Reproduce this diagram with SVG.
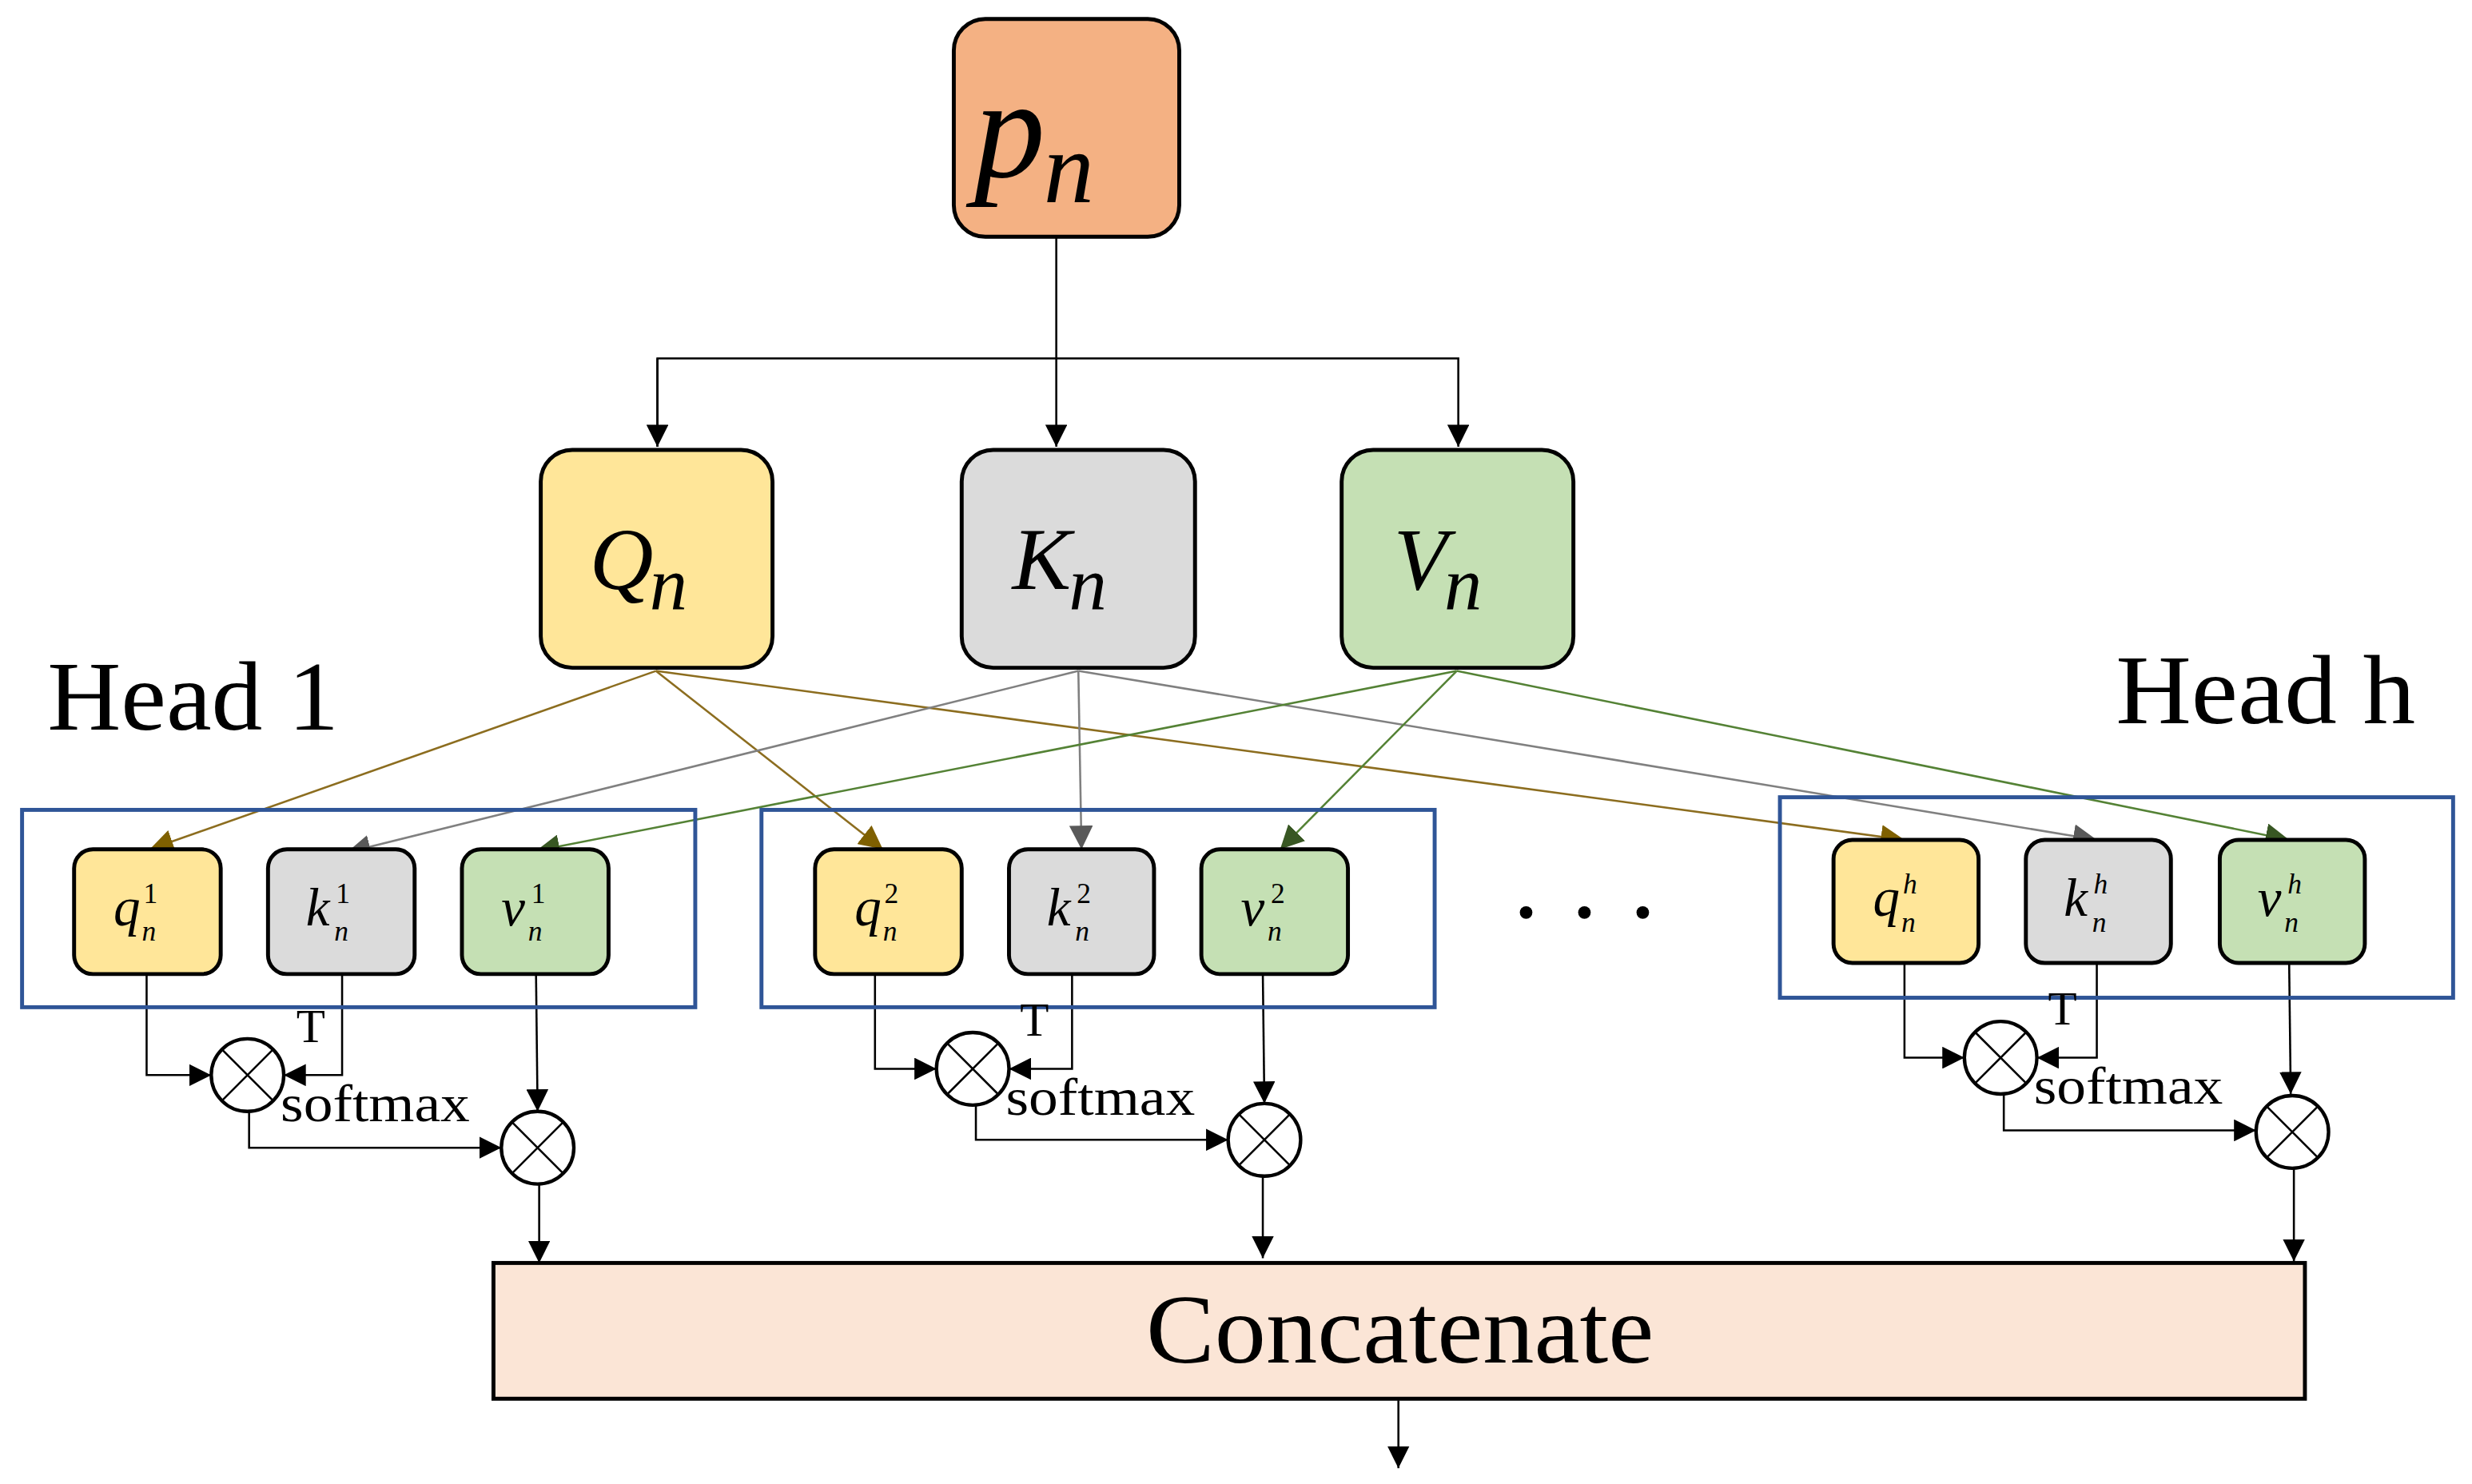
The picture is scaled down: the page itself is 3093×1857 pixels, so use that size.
<svg xmlns="http://www.w3.org/2000/svg" width="3093" height="1857" viewBox="0 0 3093 1857">
<style>
.node{stroke:#000;stroke-width:2.5}
.hb{fill:none;stroke:#2F5597;stroke-width:2.5}
.m{font-family:"Liberation Serif","DejaVu Serif",serif;font-style:italic;fill:#000}
.t{font-family:"Liberation Serif","DejaVu Serif",serif;fill:#000}
.b{font-size:34px}
.s{font-size:18px}
.c{fill:none;stroke:#000;stroke-width:1.3}
.cq{fill:none;stroke:#8C6D1F;stroke-width:1.3}
.ck{fill:none;stroke:#808080;stroke-width:1.3}
.cv{fill:none;stroke:#548235;stroke-width:1.3}
.op{fill:#fff;stroke:#000;stroke-width:2.2}
</style>
<defs>
<marker id="a" viewBox="0 0 10 10" refX="10" refY="5" markerWidth="14" markerHeight="14" markerUnits="userSpaceOnUse" orient="auto"><path d="M0,0L10,5L0,10z" fill="#000"/></marker>
<marker id="aq" viewBox="0 0 10 10" refX="10" refY="5" markerWidth="15" markerHeight="15" markerUnits="userSpaceOnUse" orient="auto"><path d="M0,0L10,5L0,10z" fill="#7F6000"/></marker>
<marker id="ak" viewBox="0 0 10 10" refX="10" refY="5" markerWidth="15" markerHeight="15" markerUnits="userSpaceOnUse" orient="auto"><path d="M0,0L10,5L0,10z" fill="#595959"/></marker>
<marker id="av" viewBox="0 0 10 10" refX="10" refY="5" markerWidth="15" markerHeight="15" markerUnits="userSpaceOnUse" orient="auto"><path d="M0,0L10,5L0,10z" fill="#385723"/></marker>
</defs>
<rect width="3093" height="1857" fill="#fff"/>
<g transform="scale(1.9726 1.9755)">
<g id="connectors">
<path class="c" d="M670,150V283" marker-end="url(#a)"/>
<path class="c" d="M417,283V227H925V283" marker-end="url(#a)"/>
<path class="c" d="M417,227V283" marker-end="url(#a)"/>
<path class="cq" d="M416,425L95,538" marker-end="url(#aq)"/>
<path class="cq" d="M416,425L560,538" marker-end="url(#aq)"/>
<path class="cq" d="M416,425L1208,532" marker-end="url(#aq)"/>
<path class="ck" d="M684,425L220,540" marker-end="url(#ak)"/>
<path class="ck" d="M684,425L686,538" marker-end="url(#ak)"/>
<path class="ck" d="M684,425L1330,532" marker-end="url(#ak)"/>
<path class="cv" d="M924,425L340,539" marker-end="url(#av)"/>
<path class="cv" d="M924,425L812,538" marker-end="url(#av)"/>
<path class="cv" d="M924,425L1452,532" marker-end="url(#av)"/>
<path class="c" d="M93,617V681H134" marker-end="url(#a)"/>
<path class="c" d="M217,617V681H180" marker-end="url(#a)"/>
<path class="c" d="M158,704V727H318" marker-end="url(#a)"/>
<path class="c" d="M340,617L341,704" marker-end="url(#a)"/>
<path class="c" d="M342,750V800" marker-end="url(#a)"/>
<path class="c" d="M555,617V677H594" marker-end="url(#a)"/>
<path class="c" d="M680,617V677H640" marker-end="url(#a)"/>
<path class="c" d="M619,700V722H779" marker-end="url(#a)"/>
<path class="c" d="M801,617L802,699" marker-end="url(#a)"/>
<path class="c" d="M801,745V797" marker-end="url(#a)"/>
<path class="c" d="M1208,610V670H1246" marker-end="url(#a)"/>
<path class="c" d="M1330,610V670H1292" marker-end="url(#a)"/>
<path class="c" d="M1271,693V716H1431" marker-end="url(#a)"/>
<path class="c" d="M1452,610L1453,693" marker-end="url(#a)"/>
<path class="c" d="M1455,740V799" marker-end="url(#a)"/>
<path class="c" d="M887,887V930" marker-end="url(#a)"/>
</g>
<g id="pn"><rect class="node" x="605" y="12" width="143" height="138" rx="20" fill="#F4B183"/><text class="m" x="618" y="112" font-size="90">p</text><text class="m" x="662" y="128" font-size="64">n</text></g>
<g id="Q"><rect class="node" x="343" y="285" width="147" height="138" rx="20" fill="#FFE699"/><text class="m" x="374" y="373" font-size="56">Q</text><text class="m" x="412" y="386" font-size="48">n</text></g>
<g id="K"><rect class="node" x="610" y="285" width="148" height="138" rx="20" fill="#DBDBDB"/><text class="m" x="642" y="373" font-size="56">K</text><text class="m" x="678" y="386" font-size="48">n</text></g>
<g id="V"><rect class="node" x="851" y="285" width="147" height="138" rx="20" fill="#C5E0B4"/><text class="m" x="884" y="373" font-size="56">V</text><text class="m" x="916" y="386" font-size="48">n</text></g>
<text class="t" x="30" y="462" font-size="62" textLength="185" lengthAdjust="spacingAndGlyphs">Head 1</text>
<text class="t" x="1342" y="458" font-size="62" textLength="190" lengthAdjust="spacingAndGlyphs">Head h</text>
<g id="head1">
<rect class="hb" x="14" y="513" width="427" height="125"/>
<g id="q1"><rect class="node" x="47" y="538" width="93" height="79" rx="12" fill="#FFE699"/><text class="m b" x="72" y="586">q</text><text class="t s" x="91" y="572">1</text><text class="m s" x="90" y="596">n</text></g>
<g id="k1"><rect class="node" x="170" y="538" width="93" height="79" rx="12" fill="#DBDBDB"/><text class="m b" x="194" y="586">k</text><text class="t s" x="213" y="572">1</text><text class="m s" x="212" y="596">n</text></g>
<g id="v1"><rect class="node" x="293" y="538" width="93" height="79" rx="12" fill="#C5E0B4"/><text class="m b" x="318" y="586">v</text><text class="t s" x="337" y="572">1</text><text class="m s" x="335" y="596">n</text></g>
</g>
<g id="head2">
<rect class="hb" x="483" y="513" width="427" height="125"/>
<g id="q2"><rect class="node" x="517" y="538" width="93" height="79" rx="12" fill="#FFE699"/><text class="m b" x="542" y="586">q</text><text class="t s" x="561" y="572">2</text><text class="m s" x="560" y="596">n</text></g>
<g id="k2"><rect class="node" x="640" y="538" width="92" height="79" rx="12" fill="#DBDBDB"/><text class="m b" x="664" y="586">k</text><text class="t s" x="683" y="572">2</text><text class="m s" x="682" y="596">n</text></g>
<g id="v2"><rect class="node" x="762" y="538" width="93" height="79" rx="12" fill="#C5E0B4"/><text class="m b" x="787" y="586">v</text><text class="t s" x="806" y="572">2</text><text class="m s" x="804" y="596">n</text></g>
</g>
<g fill="#000"><circle cx="968" cy="578" r="4"/><circle cx="1005" cy="578" r="4"/><circle cx="1042" cy="578" r="4"/></g>
<g id="headh">
<rect class="hb" x="1129" y="505" width="427" height="127"/>
<g id="qh"><rect class="node" x="1163" y="532" width="92" height="78" rx="12" fill="#FFE699"/><text class="m b" x="1188" y="580">q</text><text class="m s" x="1207" y="566">h</text><text class="m s" x="1206" y="590">n</text></g>
<g id="kh"><rect class="node" x="1285" y="532" width="92" height="78" rx="12" fill="#DBDBDB"/><text class="m b" x="1309" y="580">k</text><text class="m s" x="1328" y="566">h</text><text class="m s" x="1327" y="590">n</text></g>
<g id="vh"><rect class="node" x="1408" y="532" width="92" height="78" rx="12" fill="#C5E0B4"/><text class="m b" x="1432" y="580">v</text><text class="m s" x="1451" y="566">h</text><text class="m s" x="1449" y="590">n</text></g>
</g>
<g id="ops">
<g><circle class="op" cx="157" cy="681" r="23"/><path class="c" d="M141,665L173,697M173,665L141,697"/></g>
<g><circle class="op" cx="341" cy="727" r="23"/><path class="c" d="M325,711L357,743M357,711L325,743"/></g>
<g><circle class="op" cx="617" cy="677" r="23"/><path class="c" d="M601,661L633,693M633,661L601,693"/></g>
<g><circle class="op" cx="802" cy="722" r="23"/><path class="c" d="M786,706L818,738M818,706L786,738"/></g>
<g><circle class="op" cx="1269" cy="670" r="23"/><path class="c" d="M1253,654L1285,686M1285,654L1253,686"/></g>
<g><circle class="op" cx="1454" cy="717" r="23"/><path class="c" d="M1438,701L1470,733M1470,701L1438,733"/></g>
</g>
<text class="t" x="188" y="660" font-size="30">T</text>
<text class="t" x="178" y="710" font-size="33" textLength="120" lengthAdjust="spacingAndGlyphs">softmax</text>
<text class="t" x="647" y="656" font-size="30">T</text>
<text class="t" x="638" y="706" font-size="33" textLength="120" lengthAdjust="spacingAndGlyphs">softmax</text>
<text class="t" x="1299" y="649" font-size="30">T</text>
<text class="t" x="1290" y="699" font-size="33" textLength="120" lengthAdjust="spacingAndGlyphs">softmax</text>
<g id="concat"><rect class="node" x="313" y="800" width="1149" height="86" fill="#FBE5D6"/><text class="t" x="727" y="863" font-size="62" textLength="322" lengthAdjust="spacingAndGlyphs">Concatenate</text></g>
</g>
</svg>
